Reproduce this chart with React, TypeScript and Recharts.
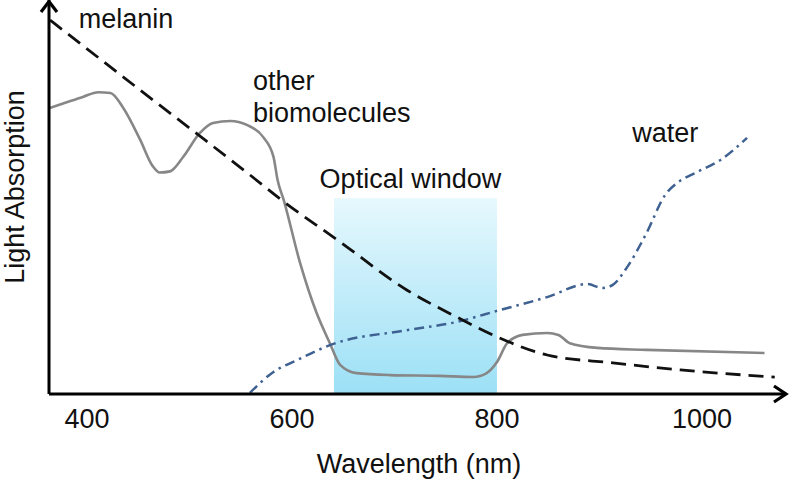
import React from 'react';
import { ComposedChart, Line, XAxis, YAxis, ReferenceArea, ReferenceDot } from 'recharts';

// wavelength (nm) and relative absorption (arbitrary units, 0-100)
const melaninNm = [364, 413, 462, 510, 559, 590, 647, 712, 761, 800, 849, 913, 979, 1071];
const melaninAbs = [94.9, 85.0, 75.1, 65.5, 55.6, 49.2, 38.6, 26.4, 19.5, 14.5, 9.9, 7.9, 6.1, 4.3];

const bioNm = [364, 381, 396, 411, 423, 435, 452, 464, 471, 481, 494, 510, 523, 540, 556, 572, 582, 586, 592, 608, 624, 637, 647, 663, 696, 744, 777, 790, 800, 810, 825, 849, 860, 871, 898, 946, 1061];
const bioAbs = [72.6, 74.1, 75.4, 76.6, 76.4, 72.8, 64.5, 57.9, 56.2, 56.5, 60.2, 66.2, 68.8, 69.3, 68.3, 65.2, 60.2, 54.3, 49.2, 33.2, 20.6, 12.9, 7.4, 5.3, 4.8, 4.6, 4.3, 5.3, 8.1, 12.9, 15.0, 15.5, 15.0, 12.9, 11.7, 11.2, 10.4];

const waterNm = [559, 582, 605, 637, 712, 761, 800, 849, 888, 903, 913, 927, 946, 964, 976, 995, 1018, 1044];
const waterAbs = [0.3, 5.6, 8.6, 12.4, 16.2, 18.3, 21.1, 24.6, 27.9, 26.9, 27.7, 32.2, 40.9, 50.5, 53.6, 56.3, 59.4, 65.0];

const xTicks = [400, 600, 800, 1000];
const xDomain = [363, 1081];
const yDomain = [0, 100];

const windowRange = { from: 641, to: 800, top: 49.7 };

const annotations = [
  { text: 'melanin', nm: 392, abs: 92.9, anchor: 'start' },
  { text: 'other', nm: 562, abs: 77.2, anchor: 'start' },
  { text: 'biomolecules', nm: 562, abs: 69.0, anchor: 'start' },
  { text: 'Optical window', nm: 627, abs: 52.3, anchor: 'start' },
  { text: 'water', nm: 932, abs: 64.0, anchor: 'start' },
];

const xLabel = 'Wavelength (nm)';
const yLabel = 'Light Absorption';

const toRows = (nm: number[], v: number[]) => nm.map((x, i) => ({ nm: x, v: v[i] }));
const melanin = toRows(melaninNm, melaninAbs);
const bio = toRows(bioNm, bioAbs);
const water = toRows(waterNm, waterAbs);

const FONT = '"Liberation Sans", Arial, Helvetica, sans-serif';
const FS = 27;
const INK = '#111';

const XTick = (props: any) => {
  const { x, y, payload } = props;
  return (
    <text x={x} y={y + 26} textAnchor="middle" fontFamily={FONT} fontSize={FS} fill={INK}>
      {payload.value}
    </text>
  );
};

const WindowShape = (props: any) => {
  const { x, y, width, height } = props;
  return (
    <g>
      <defs>
        <linearGradient id="owGrad" x1="0" y1="0" x2="0" y2="1">
          <stop offset="0%" stopColor="#e6f8fd" />
          <stop offset="100%" stopColor="#9ce0f6" />
        </linearGradient>
      </defs>
      <rect x={x} y={y} width={width} height={height} fill="url(#owGrad)" />
    </g>
  );
};

const ArrowRight = (props: any) => {
  const { cx, cy } = props;
  return (
    <polyline
      points={`${cx - 11},${cy - 8} ${cx + 1},${cy} ${cx - 11},${cy + 8}`}
      fill="none"
      stroke="#000"
      strokeWidth={3.2}
    />
  );
};

const ArrowUp = (props: any) => {
  const { cx, cy } = props;
  return (
    <polyline
      points={`${cx - 8},${cy + 12} ${cx},${cy + 1.5} ${cx + 8},${cy + 12}`}
      fill="none"
      stroke="#000"
      strokeWidth={3.2}
    />
  );
};

export default function App() {
  return (
    <div style={{ width: 789, height: 482, background: '#fff' }}>
      <style>{'body{margin:0;}'}</style>
      <ComposedChart
        width={789}
        height={482}
        margin={{ top: 0, right: 4, left: 0, bottom: 0 }}
      >
        <XAxis
          type="number"
          dataKey="nm"
          domain={xDomain}
          ticks={xTicks}
          allowDataOverflow
          height={88}
          tickLine={false}
          axisLine={{ stroke: '#000', strokeWidth: 3 }}
          tick={<XTick />}
          label={{
            content: (p: any) => {
              const vb = p.viewBox;
              return (
                <text
                  x={vb.x + vb.width / 2 + 2}
                  y={vb.y + 79}
                  textAnchor="middle"
                  fontFamily={FONT}
                  fontSize={FS}
                  fill={INK}
                >
                  {xLabel}
                </text>
              );
            },
          }}
        />
        <YAxis
          type="number"
          domain={yDomain}
          allowDataOverflow
          width={49}
          tick={false}
          tickLine={false}
          axisLine={{ stroke: '#000', strokeWidth: 3 }}
          label={{
            content: () => (
              <text
                x={24}
                y={187}
                transform="rotate(-90, 24, 187)"
                textAnchor="middle"
                fontFamily={FONT}
                fontSize={FS}
                fill={INK}
              >
                {yLabel}
              </text>
            ),
          }}
        />
        <ReferenceArea
          x1={windowRange.from}
          x2={windowRange.to}
          y1={0}
          y2={windowRange.top}
          shape={<WindowShape />}
          ifOverflow="visible"
        />
        <Line
          data={bio}
          dataKey="v"
          type="monotone"
          stroke="#878787"
          strokeWidth={2.6}
          dot={false}
          isAnimationActive={false}
        />
        <Line
          data={water}
          dataKey="v"
          type="monotone"
          stroke="#3f6191"
          strokeWidth={2.5}
          strokeDasharray="10 5 2.5 5"
          dot={false}
          isAnimationActive={false}
        />
        <Line
          data={melanin}
          dataKey="v"
          type="monotone"
          stroke="#111"
          strokeWidth={2.8}
          strokeDasharray="15 8"
          dot={false}
          isAnimationActive={false}
        />
        <ReferenceDot x={xDomain[1]} y={0} r={0} ifOverflow="visible" shape={<ArrowRight />} />
        <ReferenceDot x={xDomain[0]} y={yDomain[1]} r={0} ifOverflow="visible" shape={<ArrowUp />} />
        {annotations.map((a) => (
          <ReferenceDot
            key={a.text}
            x={a.nm}
            y={a.abs}
            r={0}
            ifOverflow="visible"
            shape={(p: any) => (
              <text
                x={p.cx}
                y={p.cy}
                textAnchor={a.anchor as any}
                fontFamily={FONT}
                fontSize={FS}
                fill={INK}
              >
                {a.text}
              </text>
            )}
          />
        ))}
      </ComposedChart>
    </div>
  );
}
